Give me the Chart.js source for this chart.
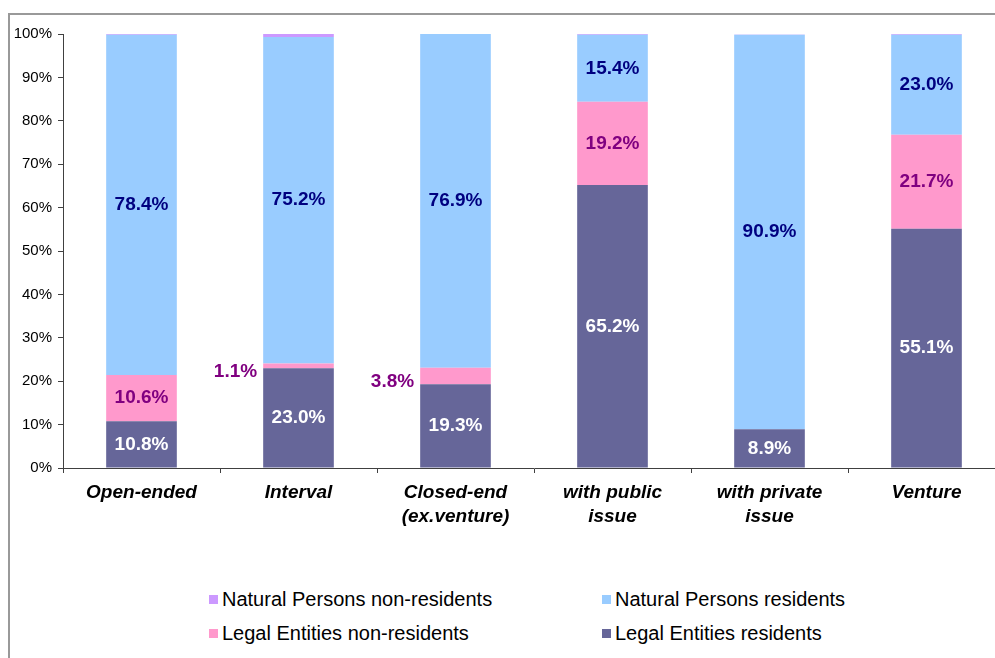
<!DOCTYPE html>
<html>
<head>
<meta charset="utf-8">
<script src="https://cdn.jsdelivr.net/npm/chart.js@4"></script>
<style>
  html, body { margin: 0; padding: 0; background: #fff; overflow: hidden; width: 995px; height: 658px; }
  #frame { position: absolute; left: 8px; top: 13px; width: 1000px; height: 660px; border-top: 2px solid #999; border-left: 2px solid #999; }
  #wrap { position: absolute; left: 0; top: 0; width: 1005px; height: 560px; }
  #legend { position: absolute; left: 0; top: 588px; width: 995px; font: 20px "Liberation Sans", Arial, sans-serif; color: #000; }
  .item { position: absolute; white-space: nowrap; line-height: 22px; }
  .item span.box { display: inline-block; width: 9px; height: 9px; margin-right: 4px; vertical-align: 2px; }
</style>
</head>
<body>
<div id="frame"></div>
<div id="wrap"><canvas id="chart"></canvas></div>
<div id="legend"></div>
<script>
const categories = [['Open-ended'], ['Interval'], ['Closed-end', '(ex.venture)'], ['with public', 'issue'], ['with private', 'issue'], ['Venture']];
const legalResidents = [10.8, 23.0, 19.3, 65.2, 8.9, 55.1];
const legalNonResidents = [10.6, 1.1, 3.8, 19.2, 0, 21.7];
const naturalResidents = [78.4, 75.2, 76.9, 15.4, 90.9, 23.0];
const naturalNonResidents = [0.2, 0.7, 0.0, 0.2, 0.1, 0.2];
const yTicks = [0, 10, 20, 30, 40, 50, 60, 70, 80, 90, 100];

const series = [
    { label: 'Legal Entities residents', data: legalResidents, color: '#666699', text: '#ffffff', show: true },
    { label: 'Legal Entities non-residents', data: legalNonResidents, color: '#ff99cc', text: '#800080', show: true },
    { label: 'Natural Persons residents', data: naturalResidents, color: '#99ccff', text: '#000080', show: true },
    { label: 'Natural Persons non-residents', data: naturalNonResidents, color: '#cc99ff', text: '#800080', show: false }
];

// legend laid out in two columns, top series first
const legendItems = [
    { s: series[3], x: 209, y: 0 },
    { s: series[2], x: 602, y: 0 },
    { s: series[1], x: 209, y: 34 },
    { s: series[0], x: 602, y: 34 }
];
const legendEl = document.getElementById('legend');
legendItems.forEach(it => {
    const d = document.createElement('div');
    d.className = 'item';
    d.style.left = it.x + 'px';
    d.style.top = it.y + 'px';
    d.innerHTML = '<span class="box" style="background:' + it.s.color + '"></span>' + it.s.label;
    legendEl.appendChild(d);
});

const valueLabels = {
    id: 'valueLabels',
    afterDatasetsDraw(chart) {
        const ctx = chart.ctx;
        ctx.save();
        ctx.font = 'bold 19px "Liberation Sans", Arial, sans-serif';
        ctx.textBaseline = 'middle';
        series.forEach((s, di) => {
            if (!s.show) return;
            const meta = chart.getDatasetMeta(di);
            meta.data.forEach((bar, i) => {
                const v = s.data[i];
                if (!v) return;
                const txt = v.toFixed(1) + '%';
                const mid = (bar.y + bar.base) / 2;
                ctx.fillStyle = s.text;
                if (v < 5) {
                    ctx.textAlign = 'right';
                    ctx.fillText(txt, bar.x - bar.width / 2 - 6, mid + 6);
                } else {
                    ctx.textAlign = 'center';
                    ctx.fillText(txt, bar.x, mid);
                }
            });
        });
        ctx.restore();
    }
};

new Chart(document.getElementById('chart'), {
    type: 'bar',
    data: {
        labels: categories,
        datasets: series.map(s => ({
            label: s.label,
            data: s.data,
            backgroundColor: s.color,
            borderWidth: 0,
            barPercentage: 0.45,
            categoryPercentage: 1.0
        }))
    },
    options: {
        responsive: true,
        maintainAspectRatio: false,
        animation: false,
        layout: { padding: { top: 34, left: 0, right: 0, bottom: 0 } },
        plugins: {
            legend: { display: false },
            tooltip: { enabled: false }
        },
        scales: {
            x: {
                stacked: true,
                offset: true,
                grid: { offset: true, drawOnChartArea: false, tickLength: 5, color: '#404040' },
                border: { color: '#404040', width: 1 },
                ticks: {
                    color: '#000',
                    padding: 8,
                    maxRotation: 0,
                    font: { family: '"Liberation Sans", Arial, sans-serif', size: 19, style: 'italic', weight: 'bold', lineHeight: 1.25 }
                },
                afterFit(scale) { scale.height = 560 - 468; }
            },
            y: {
                stacked: true,
                min: 0,
                max: 100,
                afterBuildTicks(scale) { scale.ticks = yTicks.map(v => ({ value: v })); },
                grid: { drawOnChartArea: false, tickLength: 5, color: '#404040' },
                border: { color: '#404040', width: 1 },
                ticks: {
                    color: '#000',
                    padding: 6,
                    font: { family: '"Liberation Sans", Arial, sans-serif', size: 15 },
                    callback: v => v + '%'
                },
                afterFit(scale) { scale.width = 63; }
            }
        }
    },
    plugins: [valueLabels]
});
</script>
</body>
</html>
